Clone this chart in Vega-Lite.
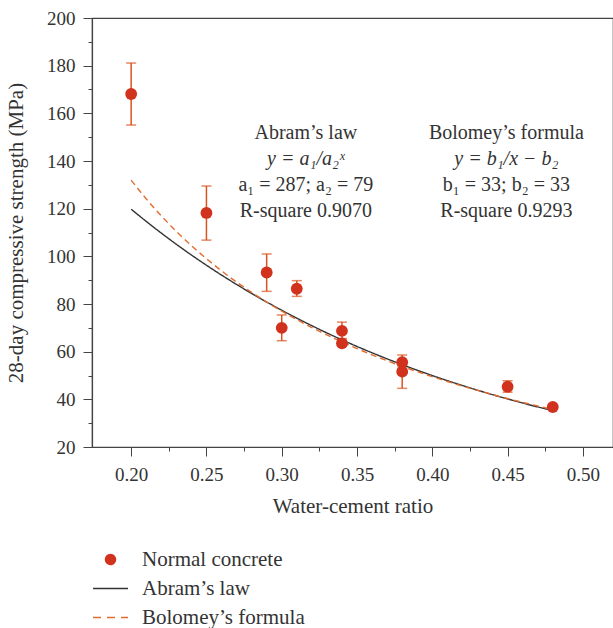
{
  "$schema": "https://vega.github.io/schema/vega-lite/v6.json",
  "width": 521,
  "height": 429,
  "autosize": "none",
  "padding": {"left": 92, "top": 18, "right": 0, "bottom": 181},
  "config": {
    "font": "Liberation Serif",
    "view": {"stroke": "#444", "strokeWidth": 1.2},
    "axis": {"labelFont": "Liberation Serif", "titleFont": "Liberation Serif", "labelColor": "#333", "titleColor": "#333", "domainColor": "#444", "tickColor": "#444", "labelFontSize": 19, "titleFontSize": 21, "titleFontWeight": "normal", "grid": false}
  },
  "datasets": {
    "pts": [
      {"x": 0.20, "y": 168.1, "lo": 155.1, "hi": 181.1, "series": "Normal concrete"},
      {"x": 0.25, "y": 118.2, "lo": 106.8, "hi": 129.5, "series": "Normal concrete"},
      {"x": 0.29, "y": 93.2, "lo": 85.3, "hi": 101.0, "series": "Normal concrete"},
      {"x": 0.30, "y": 70.0, "lo": 64.6, "hi": 75.4, "series": "Normal concrete"},
      {"x": 0.31, "y": 86.4, "lo": 83.2, "hi": 89.8, "series": "Normal concrete"},
      {"x": 0.34, "y": 68.7, "lo": 65.5, "hi": 72.4, "series": "Normal concrete"},
      {"x": 0.34, "y": 63.5, "lo": 62.5, "hi": 64.5, "series": "Normal concrete"},
      {"x": 0.38, "y": 55.6, "lo": 53.0, "hi": 58.6, "series": "Normal concrete"},
      {"x": 0.38, "y": 51.6, "lo": 44.6, "hi": 54.0, "series": "Normal concrete"},
      {"x": 0.45, "y": 45.3, "lo": 43.0, "hi": 47.8, "series": "Normal concrete"},
      {"x": 0.48, "y": 36.8, "lo": 36.0, "hi": 37.6, "series": "Normal concrete"}
    ],
    "curves": [
      {"x": 0.20, "y": 119.78, "series": "Abram’s law"},
      {"x": 0.21, "y": 114.66, "series": "Abram’s law"},
      {"x": 0.22, "y": 109.76, "series": "Abram’s law"},
      {"x": 0.23, "y": 105.06, "series": "Abram’s law"},
      {"x": 0.24, "y": 100.57, "series": "Abram’s law"},
      {"x": 0.25, "y": 96.27, "series": "Abram’s law"},
      {"x": 0.26, "y": 92.15, "series": "Abram’s law"},
      {"x": 0.27, "y": 88.21, "series": "Abram’s law"},
      {"x": 0.28, "y": 84.44, "series": "Abram’s law"},
      {"x": 0.29, "y": 80.83, "series": "Abram’s law"},
      {"x": 0.30, "y": 77.37, "series": "Abram’s law"},
      {"x": 0.31, "y": 74.06, "series": "Abram’s law"},
      {"x": 0.32, "y": 70.90, "series": "Abram’s law"},
      {"x": 0.33, "y": 67.86, "series": "Abram’s law"},
      {"x": 0.34, "y": 64.96, "series": "Abram’s law"},
      {"x": 0.35, "y": 62.18, "series": "Abram’s law"},
      {"x": 0.36, "y": 59.53, "series": "Abram’s law"},
      {"x": 0.37, "y": 56.98, "series": "Abram’s law"},
      {"x": 0.38, "y": 54.54, "series": "Abram’s law"},
      {"x": 0.39, "y": 52.21, "series": "Abram’s law"},
      {"x": 0.40, "y": 49.98, "series": "Abram’s law"},
      {"x": 0.41, "y": 47.84, "series": "Abram’s law"},
      {"x": 0.42, "y": 45.80, "series": "Abram’s law"},
      {"x": 0.43, "y": 43.84, "series": "Abram’s law"},
      {"x": 0.44, "y": 41.96, "series": "Abram’s law"},
      {"x": 0.45, "y": 40.17, "series": "Abram’s law"},
      {"x": 0.46, "y": 38.45, "series": "Abram’s law"},
      {"x": 0.47, "y": 36.81, "series": "Abram’s law"},
      {"x": 0.48, "y": 35.23, "series": "Abram’s law"},
      {"x": 0.20, "y": 132.00, "series": "Bolomey’s formula"},
      {"x": 0.21, "y": 124.14, "series": "Bolomey’s formula"},
      {"x": 0.22, "y": 117.00, "series": "Bolomey’s formula"},
      {"x": 0.23, "y": 110.48, "series": "Bolomey’s formula"},
      {"x": 0.24, "y": 104.50, "series": "Bolomey’s formula"},
      {"x": 0.25, "y": 99.00, "series": "Bolomey’s formula"},
      {"x": 0.26, "y": 93.92, "series": "Bolomey’s formula"},
      {"x": 0.27, "y": 89.22, "series": "Bolomey’s formula"},
      {"x": 0.28, "y": 84.86, "series": "Bolomey’s formula"},
      {"x": 0.29, "y": 80.79, "series": "Bolomey’s formula"},
      {"x": 0.30, "y": 77.00, "series": "Bolomey’s formula"},
      {"x": 0.31, "y": 73.45, "series": "Bolomey’s formula"},
      {"x": 0.32, "y": 70.13, "series": "Bolomey’s formula"},
      {"x": 0.33, "y": 67.00, "series": "Bolomey’s formula"},
      {"x": 0.34, "y": 64.06, "series": "Bolomey’s formula"},
      {"x": 0.35, "y": 61.29, "series": "Bolomey’s formula"},
      {"x": 0.36, "y": 58.67, "series": "Bolomey’s formula"},
      {"x": 0.37, "y": 56.19, "series": "Bolomey’s formula"},
      {"x": 0.38, "y": 53.84, "series": "Bolomey’s formula"},
      {"x": 0.39, "y": 51.62, "series": "Bolomey’s formula"},
      {"x": 0.40, "y": 49.50, "series": "Bolomey’s formula"},
      {"x": 0.41, "y": 47.49, "series": "Bolomey’s formula"},
      {"x": 0.42, "y": 45.57, "series": "Bolomey’s formula"},
      {"x": 0.43, "y": 43.74, "series": "Bolomey’s formula"},
      {"x": 0.44, "y": 42.00, "series": "Bolomey’s formula"},
      {"x": 0.45, "y": 40.33, "series": "Bolomey’s formula"},
      {"x": 0.46, "y": 38.74, "series": "Bolomey’s formula"},
      {"x": 0.47, "y": 37.21, "series": "Bolomey’s formula"},
      {"x": 0.48, "y": 35.75, "series": "Bolomey’s formula"}
    ],
    "notes": [
      {"x": 0.316, "y": 151.7, "label": "Abram’s law"},
      {"x": 0.316, "y": 129.9, "label": "a₁ = 287; a₂ = 79"},
      {"x": 0.316, "y": 119.0, "label": "R-square 0.9070"},
      {"x": 0.4492, "y": 151.7, "label": "Bolomey’s formula"},
      {"x": 0.4492, "y": 129.9, "label": "b₁ = 33; b₂ = 33"},
      {"x": 0.4492, "y": 119.0, "label": "R-square 0.9293"}
    ],
    "eqs": [
      {"x": 0.316, "y": 140.8, "label": "y = a₁/a₂ˣ"},
      {"x": 0.4492, "y": 140.8, "label": "y = b₁/x − b₂"}
    ]
  },
  "encoding": {
    "x": {"field": "x", "type": "quantitative",
      "scale": {"domain": [0.174, 0.52], "nice": false, "zero": false},
      "axis": {"title": "Water-cement ratio", "values": [0.2, 0.225, 0.25, 0.275, 0.3, 0.325, 0.35, 0.375, 0.4, 0.425, 0.45, 0.475, 0.5],
        "labelExpr": "abs(round(datum.value*40)) % 2 == 0 ? format(datum.value, '.2f') : ''",
        "tickSize": {"condition": {"test": "abs(round(datum.value*40)) % 2 == 0", "value": 9}, "value": 4},
        "labelPadding": 9, "titlePadding": 11, "domainWidth": 1.2}},
    "y": {"field": "y", "type": "quantitative",
      "scale": {"domain": [20, 200], "nice": false, "zero": false},
      "axis": {"title": "28-day compressive strength (MPa)", "values": [20, 30, 40, 50, 60, 70, 80, 90, 100, 110, 120, 130, 140, 150, 160, 170, 180, 190, 200],
        "labelExpr": "datum.value % 20 == 0 ? datum.label : ''",
        "tickSize": {"condition": {"test": "datum.value % 20 == 0", "value": 9}, "value": 4},
        "labelPadding": 8, "titlePadding": 20, "domainWidth": 1.2}}
  },
  "layer": [
    {"data": {"name": "pts"}, "mark": {"type": "rule", "color": "#d9541e", "strokeWidth": 1.5},
      "encoding": {"y": {"field": "lo", "type": "quantitative"}, "y2": {"field": "hi"}}},
    {"data": {"name": "pts"}, "mark": {"type": "tick", "orient": "horizontal", "color": "#d9541e", "size": 10, "thickness": 1.5},
      "encoding": {"y": {"field": "lo", "type": "quantitative"}}},
    {"data": {"name": "pts"}, "mark": {"type": "tick", "orient": "horizontal", "color": "#d9541e", "size": 10, "thickness": 1.5},
      "encoding": {"y": {"field": "hi", "type": "quantitative"}}},
    {"data": {"name": "curves"}, "mark": {"type": "line", "strokeWidth": 1.4, "interpolate": "monotone"},
      "encoding": {
        "color": {"field": "series", "type": "nominal",
          "scale": {"domain": ["Normal concrete", "Abram’s law", "Bolomey’s formula"], "range": ["#d0321e", "#333333", "#e36c2f"]},
          "legend": {"title": null, "orient": "none", "legendX": 0, "legendY": 523, "direction": "vertical", "padding": 0,
            "labelFont": "Liberation Serif", "labelFontSize": 21, "labelColor": "#333", "labelOffset": 13, "labelLimit": 400, "rowPadding": 0, "symbolStrokeWidth": 1.4,
            "encode": {"symbols": {"update": {
              "shape": {"signal": "datum.value === 'Normal concrete' ? 'circle' : 'stroke'"},
              "size": {"signal": "datum.value === 'Normal concrete' ? 100 : 1225"},
              "fill": {"signal": "datum.value === 'Normal concrete' ? '#d0321e' : 'transparent'"},
              "stroke": {"signal": "datum.value === 'Normal concrete' ? 'transparent' : (datum.value === 'Abram’s law' ? '#333333' : '#e36c2f')"},
              "strokeDash": {"signal": "datum.value === 'Bolomey’s formula' ? [8, 6] : [1, 0]"}
            }}}}},
        "strokeDash": {"field": "series", "type": "nominal",
          "scale": {"domain": ["Abram’s law", "Bolomey’s formula"], "range": [[1, 0], [6, 4]]}, "legend": null}
      }},
    {"data": {"name": "pts"}, "mark": {"type": "point", "filled": true, "opacity": 1, "size": 140, "shape": "circle"},
      "encoding": {"color": {"field": "series", "type": "nominal"}}},
    {"data": {"name": "notes"}, "mark": {"type": "text", "font": "Liberation Serif", "fontSize": 20, "color": "#333", "align": "center", "baseline": "middle"},
      "encoding": {"text": {"field": "label"}}},
    {"data": {"name": "eqs"}, "mark": {"type": "text", "font": "Liberation Serif", "fontSize": 20, "fontStyle": "italic", "color": "#333", "align": "center", "baseline": "middle"},
      "encoding": {"text": {"field": "label"}}}
  ]
}
